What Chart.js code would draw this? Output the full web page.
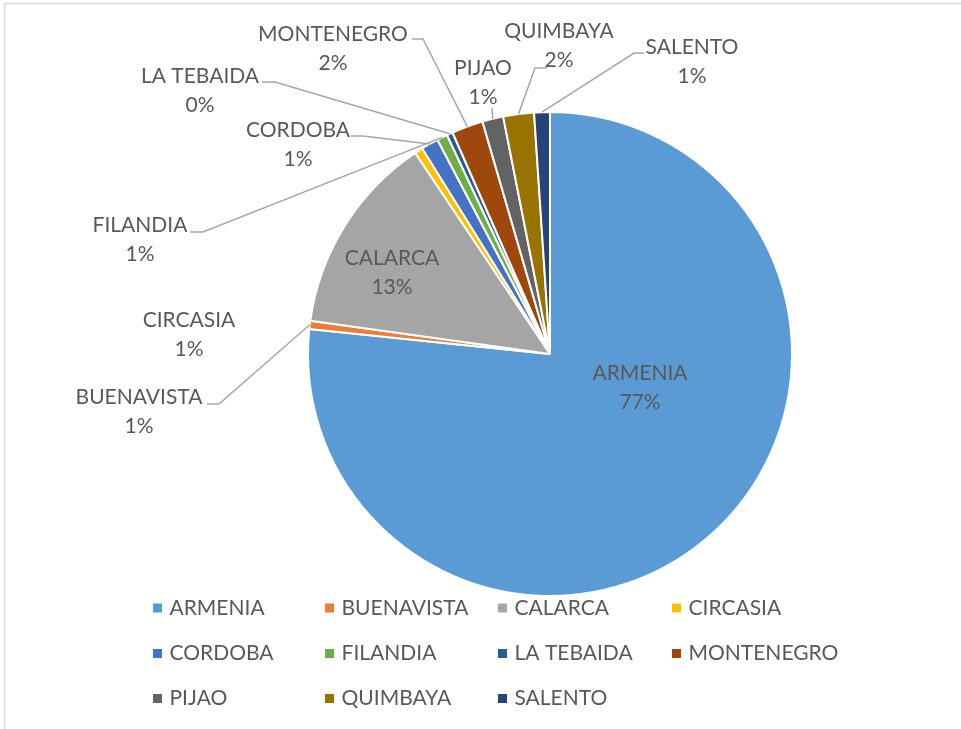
<!DOCTYPE html>
<html>
<head>
<meta charset="utf-8">
<script src="https://cdn.jsdelivr.net/npm/chart.js@4"></script>
<style>
html,body{margin:0;padding:0;background:#fff;}
#wrap{width:961px;height:729px;position:relative;}
</style>
</head>
<body>
<div id="wrap"><canvas id="c" width="961" height="729"></canvas></div>
<script>
// ---- data ----
const categories = ['ARMENIA','BUENAVISTA','CALARCA','CIRCASIA','CORDOBA','FILANDIA','LA TEBAIDA','MONTENEGRO','PIJAO','QUIMBAYA','SALENTO'];
const shares = [76.65, 0.55, 13.4, 0.55, 1.15, 0.7, 0.4, 2.1, 1.4, 2.05, 1.05];
const colors = ['#5B9BD5','#ED7D31','#A5A5A5','#FFC000','#4472C4','#70AD47','#255E91','#9E480E','#636363','#997300','#264478'];

// ---- label layout (text positions & leader elbows) ----
const labelLayout = [
  {x:640, y:373},
  {x:139, y:397, s:[207,404], e:[219,404]},
  {x:392, y:258},
  {x:189, y:320},
  {x:298, y:130, s:[351,136], e:[363,136]},
  {x:140, y:225, s:[190,232], e:[203,232]},
  {x:200, y:76,  s:[262,82],  e:[275,82]},
  {x:333, y:34,  s:[412,39],  e:[423,39]},
  {x:483, y:68,  s:[492,108], e:[492,108]},
  {x:559, y:31,  s:[547,68],  e:[535,68]},
  {x:692, y:47,  s:[644,53],  e:[634,53]}
];
const FONT = '21px Lato, "Open Sans", sans-serif';
const TEXT = '#595959';

const framePlugin = {
  id:'frame',
  beforeDraw(chart){
    const ctx = chart.ctx;
    ctx.save();
    ctx.fillStyle = '#fff';
    ctx.fillRect(0,0,chart.width,chart.height);
    ctx.strokeStyle = '#d9d9d9';
    ctx.lineWidth = 1.5;
    ctx.strokeRect(4.5,3.5,chart.width+20,chart.height+20);
    ctx.restore();
  }
};

const labelPlugin = {
  id:'pieLabels',
  afterDatasetsDraw(chart){
    const ctx = chart.ctx;
    const meta = chart.getDatasetMeta(0);
    const vals = chart.data.datasets[0].data;
    const total = vals.reduce((a,b)=>a+b,0);
    ctx.save();
    // leader lines
    ctx.strokeStyle = '#a6a6a6';
    ctx.lineWidth = 1.5;
    meta.data.forEach((arc,i)=>{
      const L = labelLayout[i];
      if(!L.s) return;
      const p = arc.getProps(['x','y','startAngle','endAngle','outerRadius'], true);
      const mid = (p.startAngle+p.endAngle)/2;
      const ax = p.x + Math.cos(mid)*p.outerRadius;
      const ay = p.y + Math.sin(mid)*p.outerRadius;
      ctx.beginPath();
      ctx.moveTo(L.s[0],L.s[1]);
      ctx.lineTo(L.e[0],L.e[1]);
      ctx.lineTo(ax,ay);
      ctx.stroke();
    });
    // texts
    ctx.font = FONT;
    ctx.fillStyle = TEXT;
    ctx.textAlign = 'center';
    ctx.textBaseline = 'middle';
    meta.data.forEach((arc,i)=>{
      const L = labelLayout[i];
      const pct = Math.round(vals[i]/total*100) + '%';
      ctx.fillText(chart.data.labels[i], L.x, L.y);
      ctx.fillText(pct, L.x, L.y+29.5);
    });
    ctx.restore();
  }
};

const legendPlugin = {
  id:'gridLegend',
  afterDraw(chart){
    const ctx = chart.ctx;
    const colX = [153,325,498,672];
    const rowY = [608,653.5,698.5];
    ctx.save();
    ctx.font = FONT;
    ctx.textAlign = 'left';
    ctx.textBaseline = 'middle';
    chart.data.labels.forEach((lab,i)=>{
      const cx = colX[i%4], cy = rowY[Math.floor(i/4)];
      ctx.fillStyle = chart.data.datasets[0].backgroundColor[i];
      ctx.fillRect(cx, cy-4.5, 9, 9);
      ctx.fillStyle = TEXT;
      ctx.fillText(lab, cx+16.5, cy);
    });
    ctx.restore();
  }
};

new Chart(document.getElementById('c'), {
  type:'pie',
  data:{
    labels: categories,
    datasets:[{data: shares, backgroundColor: colors, borderColor:'#ffffff', borderWidth:2}]
  },
  options:{
    responsive:false,
    animation:false,
    layout:{padding:{left:307,right:168,top:111,bottom:132}},
    plugins:{legend:{display:false}, tooltip:{enabled:false}}
  },
  plugins:[framePlugin,labelPlugin,legendPlugin]
});
</script>
</body>
</html>
